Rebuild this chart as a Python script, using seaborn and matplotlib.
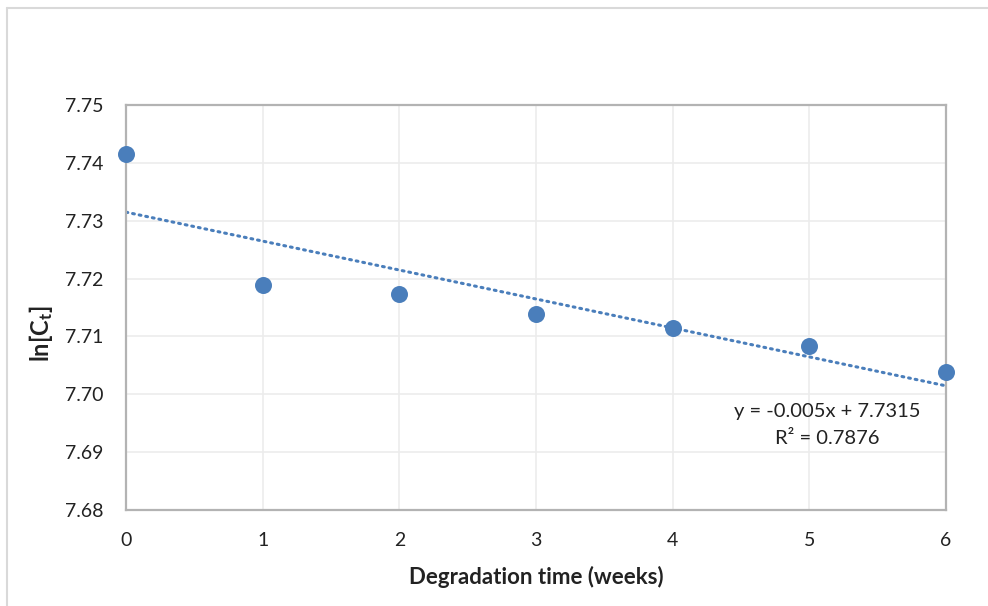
import numpy as np
import pandas as pd
import seaborn as sns
import matplotlib
matplotlib.use("Agg")
import matplotlib.pyplot as plt
from matplotlib.lines import Line2D

# Data
weeks = [0, 1, 2, 3, 4, 5, 6]
ln_ct = [7.7416, 7.7189, 7.7173, 7.7138, 7.7115, 7.7083, 7.7039]
y_ticks = [7.68, 7.69, 7.70, 7.71, 7.72, 7.73, 7.74, 7.75]
x_ticks = [0, 1, 2, 3, 4, 5, 6]
eq_text = "y = -0.005x + 7.7315"
r2_text = "R² = 0.7876"

sns.set_theme(style="white")
plt.rcParams['font.family'] = ['Lato', 'DejaVu Sans']
plt.rcParams['mathtext.fontset'] = 'custom'
plt.rcParams['mathtext.rm'] = 'Lato'
plt.rcParams['mathtext.bf'] = 'Lato:bold'
plt.rcParams['mathtext.it'] = 'Lato:italic'

df = pd.DataFrame({"weeks": weeks, "ln_ct": ln_ct})
blue = "#4a7ebb"

fig = plt.figure(figsize=(9.88, 6.06), dpi=100)
ax = fig.add_axes([126/988, 1 - 510/606, (946-126)/988, (510-105)/606])

# trendline from data
slope, intercept = np.polyfit(df["weeks"], df["ln_ct"], 1)
xt = np.array([min(weeks), max(weeks)])
trend = pd.DataFrame({"x": xt, "y": slope * xt + intercept})
sns.lineplot(data=trend, x="x", y="y", ax=ax, color=blue, lw=2.2,
             linestyle=(0, (0.6, 1.6)), dash_capstyle="round", zorder=2)

sns.scatterplot(data=df, x="weeks", y="ln_ct", ax=ax, s=150, color=blue,
                edgecolor=blue, linewidth=0, zorder=3, clip_on=False)

ax.set_xlim(0, 6)
ax.set_ylim(7.68, 7.75)
ax.set_xticks(x_ticks)
ax.set_yticks(y_ticks)
ax.set_xticklabels([str(v) for v in x_ticks])
ax.set_yticklabels([f"{v:.2f}" for v in y_ticks])
ax.tick_params(axis="both", length=0, labelsize=14, colors="#222222")
ax.tick_params(axis="y", pad=16)
ax.tick_params(axis="x", pad=16)

ax.grid(True, color="#ececec", lw=1.2)
ax.set_axisbelow(True)
for sp in ax.spines.values():
    sp.set_color("#b3b3b3")
    sp.set_linewidth(1.6)
    sp.set_visible(True)

ax.set_xlabel("Degradation time (weeks)", fontsize=16, fontweight="bold",
              color="#222222", labelpad=12)
ax.set_ylabel(r"$\mathbf{ln[C_t]}$", fontsize=17, color="#222222",
              va="center", ha="center")
ax.yaxis.set_label_coords((41 - 126) / 820, (510 - 334) / 405)

ax.text(827/988, 1 - 411/606, eq_text, fontsize=14.5, ha="center", va="center",
        color="#222222", transform=fig.transFigure)
ax.text(827/988, 1 - 439/606, r2_text, fontsize=14.5, ha="center", va="center",
        color="#222222", transform=fig.transFigure)

# outer chart border (partially visible)
fig.add_artist(Line2D([7/988, 7/988], [0, 1 - 8/606], transform=fig.transFigure,
                      color="#d9d9d9", lw=1.5))
fig.add_artist(Line2D([7/988, 1], [1 - 8/606, 1 - 8/606], transform=fig.transFigure,
                      color="#d9d9d9", lw=1.5))

fig.savefig("out.png", dpi=100)
